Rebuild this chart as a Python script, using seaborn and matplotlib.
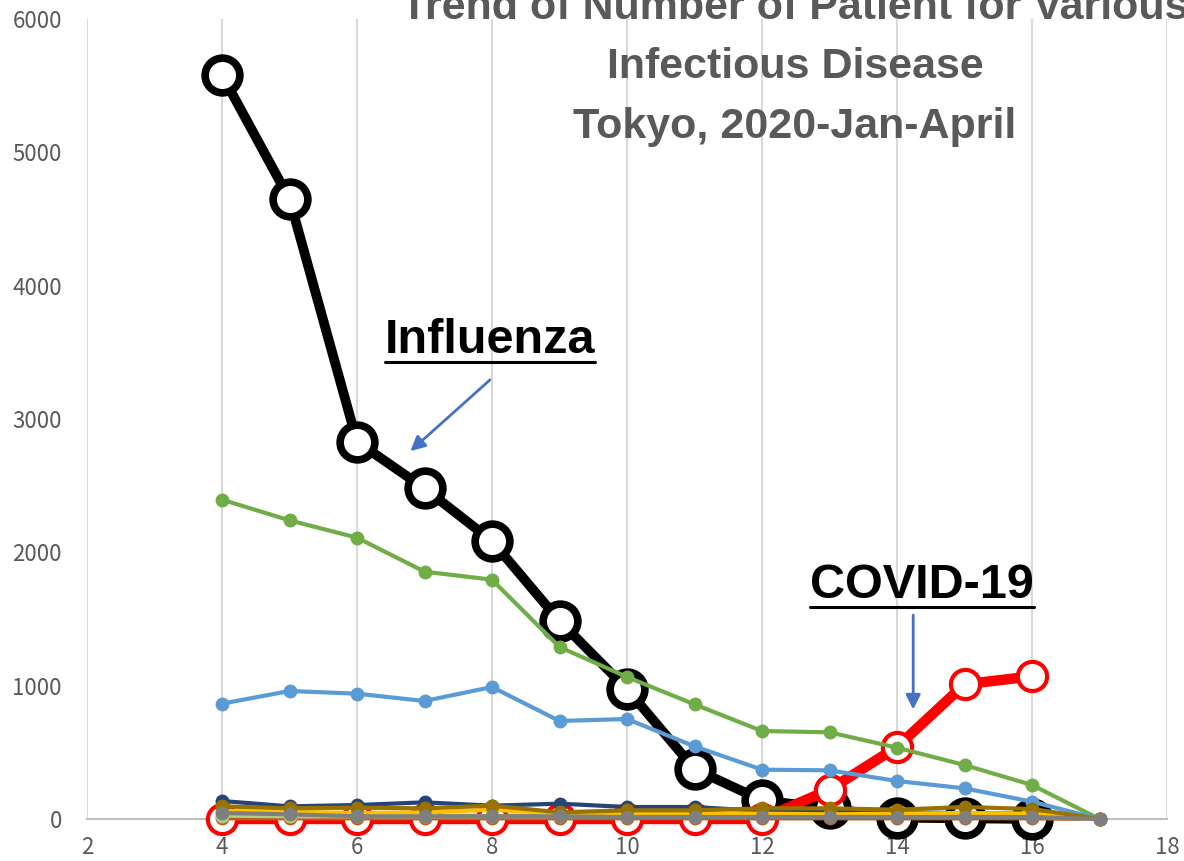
import numpy as np
import pandas as pd
import matplotlib
matplotlib.use('Agg')
import matplotlib.pyplot as plt
from matplotlib.lines import Line2D
import seaborn as sns

# weekly patient counts, Tokyo 2020 (weeks 4-17)
weeks = [4, 5, 6, 7, 8, 9, 10, 11, 12, 13, 14, 15, 16, 17]
influenza = [5580, 4650, 2830, 2480, 2085, 1485, 975, 375, 140, 80, 10, 5, 0]
covid = [0, 0, 0, 0, 0, 0, 0, 0, 0, 220, 540, 1010, 1070]
gastro = [2395, 2240, 2110, 1855, 1795, 1290, 1065, 860, 660, 650, 535, 405, 255, 0]
strep = [865, 960, 940, 885, 990, 735, 750, 545, 370, 365, 285, 230, 130, 0]
navy = [135, 95, 105, 125, 100, 115, 90, 90, 60, 55, 50, 45, 40, 0]
gold = [95, 80, 85, 80, 100, 50, 65, 65, 80, 80, 70, 90, 75, 0]
yellow = [60, 55, 45, 50, 70, 40, 45, 45, 40, 35, 40, 45, 40, 0]
lgreen = [25, 20, 20, 20, 20, 20, 20, 20, 20, 20, 20, 20, 20, 0]
orange = [5, 5, 5, 5, 5, 5, 5, 5, 5, 5, 5, 5, 5, 0]
gray = [45, 35, 20, 20, 20, 20, 15, 15, 15, 15, 15, 15, 15, 0]

title_lines = ['Trend of Number of Patient for Various',
               'Infectious Disease',
               'Tokyo, 2020-Jan-April']

sns.set_style('white')
plt.rcParams['font.family'] = ['Liberation Sans', 'DejaVu Sans']

fig = plt.figure(figsize=(11.84, 8.61), dpi=100)
ax = fig.add_axes([87 / 1184, 42 / 861, 1080 / 1184, 800 / 861])

# main series
sns.lineplot(x=weeks[:13], y=influenza, ax=ax, color='black', lw=7, marker='o',
             markersize=25, markerfacecolor='white', markeredgecolor='black',
             markeredgewidth=5.5, sort=False, estimator=None, zorder=3, clip_on=False)
sns.lineplot(x=weeks[:13], y=covid, ax=ax, color='#FF0000', lw=7.5, marker='o',
             markersize=21, markerfacecolor='white', markeredgecolor='#FF0000',
             markeredgewidth=3, sort=False, estimator=None, zorder=4, clip_on=False)

small = [(gastro, '#70AD47'), (strep, '#5B9BD5'), (navy, '#264478'),
         (orange, '#C55A11'), (lgreen, '#A9D18E'), (yellow, '#FFC000'),
         (gold, '#997300'), (gray, '#7F7F7F')]
for i, (vals, col) in enumerate(small):
    sns.lineplot(x=weeks, y=vals, ax=ax, color=col, lw=3, marker='o',
                 markersize=10, markeredgecolor=col, markeredgewidth=0,
                 sort=False, estimator=None, zorder=5 + i, clip_on=False)

ax.set_xlim(2, 18)
ax.set_ylim(0, 6000)
ax.set_xticks(range(2, 19, 2))
ax.set_yticks(range(0, 6001, 1000))
ax.grid(axis='x', color='#D9D9D9', lw=1.5)
ax.grid(axis='y', visible=False)
for s in ['left', 'right', 'top']:
    ax.spines[s].set_visible(False)
ax.spines['bottom'].set_color('#BFBFBF')
ax.spines['bottom'].set_linewidth(1.5)
ax.spines['bottom'].set_zorder(1)
ax.tick_params(axis='both', length=0, labelsize=16, labelcolor='#595959')
ax.tick_params(axis='y', pad=18)
ax.tick_params(axis='x', pad=12)
for lab in ax.get_xticklabels() + ax.get_yticklabels():
    lab.set_family(['Noto Sans CJK JP', 'DejaVu Sans'])
ax.set_xlabel('')
ax.set_ylabel('')

# annotations
labels = []
labels.append(ax.text(7.97, 3590, 'Influenza', fontsize=35, fontweight='bold',
                      ha='center', va='center', color='black'))
ax.annotate('', xy=(6.76, 2745), xytext=(8.0, 3307),
            arrowprops=dict(arrowstyle='-|>', color='#4472C4', lw=2, mutation_scale=22))
labels.append(ax.text(14.37, 1750, 'COVID-19', fontsize=35, fontweight='bold',
                      ha='center', va='center', color='black'))
ax.annotate('', xy=(14.24, 800), xytext=(14.24, 1550),
            arrowprops=dict(arrowstyle='-|>', color='#4472C4', lw=2, mutation_scale=22))

# title, top line runs off the figure like the original
for txt, ypx in zip(title_lines, [8, 67, 127]):
    fig.text(795 / 1184, 1 - ypx / 861, txt, ha='center', va='center',
             fontsize=31, fontweight='bold', color='#595959',
             family=['Liberation Sans Narrow', 'Liberation Sans', 'DejaVu Sans'])

# underline the two labels
fig.canvas.draw()
renderer = fig.canvas.get_renderer()
for t in labels:
    bb = t.get_window_extent(renderer)
    y = bb.y0 + 1
    fig.add_artist(Line2D([bb.x0 / 1184, bb.x1 / 1184], [y / 861, y / 861],
                          color='black', lw=2.2, transform=fig.transFigure))

plt.savefig('out.png', dpi=100)
plt.close('all')
